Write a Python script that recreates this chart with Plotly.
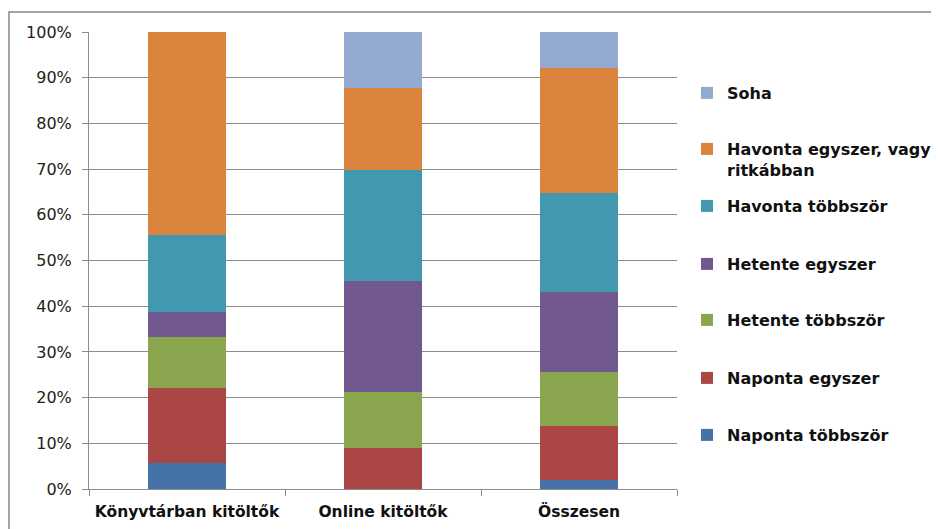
import plotly.graph_objects as go

categories = ["Könyvtárban kitöltők", "Online kitöltők", "Összesen"]

naponta_tobbszor = [5.6, 0.0, 2.0]
naponta_egyszer = [16.6, 9.0, 11.8]
hetente_tobbszor = [11.0, 12.3, 11.7]
hetente_egyszer = [5.6, 24.2, 17.7]
havonta_tobbszor = [16.8, 24.2, 21.6]
havonta_egyszer = [44.4, 18.1, 27.4]
soha = [0.0, 12.2, 7.8]

series_names = ["Naponta többször", "Naponta egyszer", "Hetente többször",
                "Hetente egyszer", "Havonta többször",
                "Havonta egyszer, vagy<br>ritkábban", "Soha"]
series_values = [naponta_tobbszor, naponta_egyszer, hetente_tobbszor,
                 hetente_egyszer, havonta_tobbszor, havonta_egyszer, soha]
colors = ["#4572A7", "#AA4643", "#89A54E", "#71588F", "#4198AF", "#DB843D", "#93A9CF"]

# page has an 8px body margin; work in page pixels and convert
OFF = 8
W, H = 939 - OFF, 529 - OFF
L = 89 - OFF
T = 32 - OFF
B = H - (489 - OFF)
R = W - (677 - OFF)
PW, PH = W - L - R, H - T - B

def px_to_paper_y(py):
    py -= OFF
    return (H - B - py) / PH

def px_to_paper_x(px):
    px -= OFF
    return (px - L) / PW

# legend text centre y (page pixels), in series order
legend_y_px = [434, 377, 319, 263, 205, 148, 92]

fig = go.Figure()
legend_names = ["legend"] + [f"legend{i}" for i in range(2, 8)]
for i, (name, vals, col) in enumerate(zip(series_names, series_values, colors)):
    fig.add_trace(go.Bar(
        x=categories, y=vals, name=name,
        marker=dict(color=col, line=dict(width=0)),
        legend=legend_names[i],
    ))

font_fam = "DejaVu Sans"
layout_legends = {}
for i, ln in enumerate(legend_names):
    layout_legends[ln] = dict(
        x=px_to_paper_x(687), xanchor="left",
        y=px_to_paper_y(legend_y_px[i] - 16), yanchor="top",
        bgcolor="rgba(0,0,0,0)", borderwidth=0,
        font=dict(family=font_fam, size=16, color="#111111", weight="bold"),
        valign="top", itemclick=False, itemdoubleclick=False,
    )

fig.update_layout(
    width=W, height=H,
    margin=dict(l=L, r=R, t=T, b=B, autoexpand=False),
    barmode="stack", bargap=0.6,
    paper_bgcolor="white", plot_bgcolor="white",
    showlegend=True,
    font=dict(family=font_fam, color="#222222"),
    **layout_legends,
)
fig.update_yaxes(
    range=[0, 100], dtick=10, ticksuffix="%",
    showgrid=True, gridcolor="#8C8C8C", gridwidth=1,
    showline=True, linecolor="#8C8C8C", linewidth=1,
    ticks="outside", ticklen=6, tickcolor="#8C8C8C",
    tickfont=dict(family=font_fam, size=16, color="#222222"),
    ticklabelstandoff=7, zeroline=False, fixedrange=True, automargin=False,
)
fig.update_xaxes(
    type="category", tickangle=0,
    showline=True, linecolor="#8C8C8C", linewidth=1,
    ticks="outside", ticklen=6, tickcolor="#8C8C8C", tickson="boundaries",
    tickfont=dict(family=font_fam, size=15.5, color="#111111", weight="bold"),
    ticklabelstandoff=8, showgrid=False, fixedrange=True, automargin=False,
)
# outer chart border (top-left corner visible)
fig.add_shape(type="rect", xref="paper", yref="paper",
              x0=px_to_paper_x(9), x1=px_to_paper_x(1100),
              y0=px_to_paper_y(700), y1=px_to_paper_y(12),
              line=dict(color="#888888", width=1.5), fillcolor="rgba(0,0,0,0)",
              layer="below")

fig.write_html("out.html")
